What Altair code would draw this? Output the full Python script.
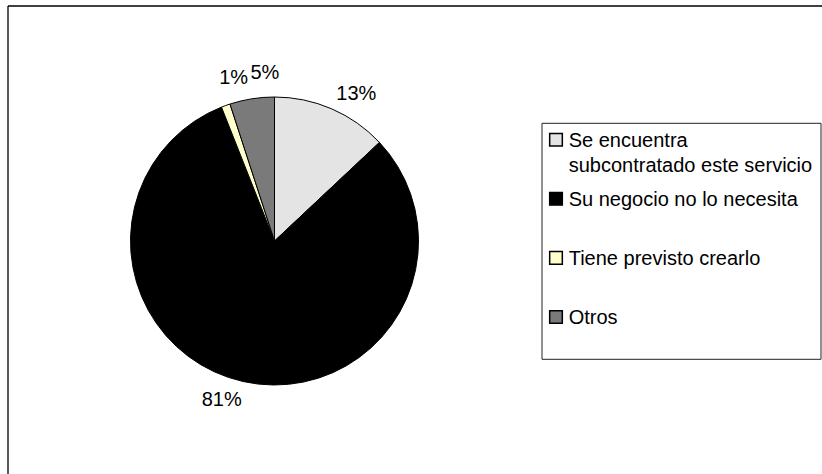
import altair as alt
import pandas as pd

categories = [
    "Se encuentra subcontratado este servicio",
    "Su negocio no lo necesita",
    "Tiene previsto crearlo",
    "Otros",
]
legend_labels = [
    "Se encuentra\nsubcontratado este servicio",
    "Su negocio no lo necesita",
    "Tiene previsto crearlo",
    "Otros",
]
values = [13, 81, 1, 5]
pct_labels = ["13%", "81%", "1%", "5%"]
colors = ["#e4e4e4", "#000000", "#ffffcc", "#7a7a7a"]

df = pd.DataFrame({
    "cat": categories,
    "legend": legend_labels,
    "value": values,
    "label": pct_labels,
    "idx": list(range(len(categories))),
})

FONT = "Liberation Sans"
CX, CY = 274.5, 241
R = 144

base = alt.Chart(df)

color_enc = alt.Color("cat:N", scale=alt.Scale(domain=categories, range=colors), legend=None)

pie = base.mark_arc(outerRadius=R, stroke="black", strokeWidth=1).encode(
    theta=alt.Theta("value:Q", stack=True),
    color=color_enc,
    order=alt.Order("idx:Q"),
    x=alt.value(CX),
    y=alt.value(CY),
)

labels = base.mark_text(radius=168, font=FONT, fontSize=20, color="black").encode(
    theta=alt.Theta("value:Q", stack=True, scale=alt.Scale(range=[0.1, 6.3832])),
    order=alt.Order("idx:Q"),
    text="label:N",
    x=alt.value(CX),
    y=alt.value(CY),
)

one = "datum.idx == 0"

frame_left = base.mark_rule(color="black", strokeWidth=1.3).encode(
    x=alt.value(8), y=alt.value(6), y2=alt.value(474)
).transform_filter(one)
frame_top = base.mark_rule(color="black", strokeWidth=1.3).encode(
    x=alt.value(8), x2=alt.value(822), y=alt.value(6)
).transform_filter(one)

legend_box = base.mark_rect(fill="white", stroke="#222222", strokeWidth=1).encode(
    x=alt.value(542), x2=alt.value(821), y=alt.value(123.3), y2=alt.value(359.3)
).transform_filter(one)

ysc = alt.Scale(domain=categories, range=[139.7, 317], padding=0)

leg_sym = base.mark_square(size=160, stroke="black", strokeWidth=1.5, opacity=1).encode(
    x=alt.value(556),
    y=alt.Y("cat:N", scale=ysc, axis=None),
    color=color_enc,
)

leg_txt = base.mark_text(
    align="left", baseline="alphabetic", dy=7, font=FONT, fontSize=20,
    color="black", lineBreak="\n", lineHeight=25,
).encode(
    x=alt.value(568.7),
    y=alt.Y("cat:N", scale=ysc, axis=None),
    text="legend:N",
)

chart = alt.layer(frame_left, frame_top, pie, labels, legend_box, leg_sym, leg_txt).resolve_scale(
    theta="independent"
).properties(
    width=822, height=474,
    padding=0,
    autosize=alt.AutoSizeParams(type="none"),
    background="white",
).configure_view(stroke=None)

chart.save("out.html", embed_options={"renderer": "svg", "actions": False})
